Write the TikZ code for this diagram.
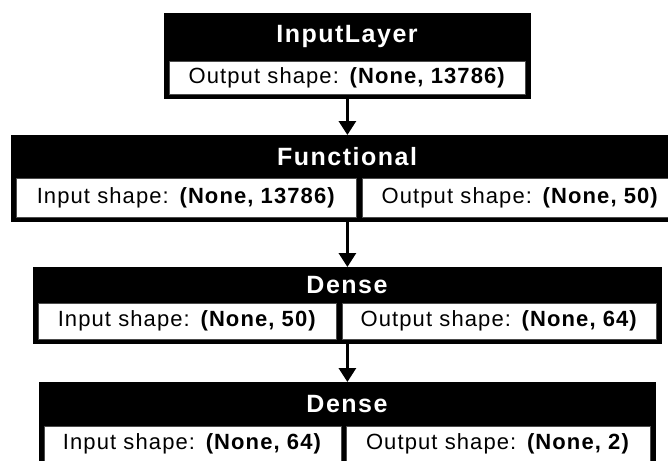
\documentclass[tikz,border=0pt]{standalone}
\usepackage{fontspec}
\setmainfont{Liberation Sans}
\usetikzlibrary{arrows.meta}
\begin{document}
\begin{tikzpicture}[x=1pt,y=-1pt,
  layer/.style={draw=black, fill=black, line width=0.8pt, inner sep=0pt, anchor=north west},
  title/.style={text=white, inner sep=0pt,
                font=\fontsize{25}{30}\selectfont\bfseries\addfontfeatures{LetterSpace=6}},
  cell/.style={draw=black!70, fill=white, line width=0.6pt, inner sep=0pt, anchor=north west,
               font=\fontsize{22}{27}\selectfont\addfontfeatures{LetterSpace=5}},
  label/.style={inner sep=0pt, font=\fontsize{22}{27}\selectfont\addfontfeatures{LetterSpace=5}},
  flow/.style={-{Triangle[length=14pt,width=17pt]}, line width=3pt}]
\useasboundingbox (0,0) rectangle (668,460);
\clip (0,0) rectangle (668,460);

% InputLayer
\node[layer, minimum width=366pt, minimum height=85pt] (in) at (164,13) {};
\node[title] (inT) at (347,36) {InputLayer};
\node[cell, minimum width=356pt, minimum height=33pt] (inO) at (169,61)
  {Output shape: \textbf{(None, 13786)}};

% Functional
\node[layer, minimum width=672pt, minimum height=86pt] (fn) at (11,135) {};
\node[title] (fnT) at (347,157) {Functional};
\node[cell, minimum width=340pt, minimum height=39pt] (fnI) at (16,178)
  {Input shape: \textbf{(None, 13786)}};
\node[cell, minimum width=316pt, minimum height=39pt] (fnO) at (362,178)
  {Output shape: \textbf{(None, 50)}};

% Dense
\node[layer, minimum width=628pt, minimum height=76pt] (d1) at (33,267) {};
\node[title] (d1T) at (347,285) {Dense};
\node[cell, minimum width=298pt, minimum height=36pt] (d1I) at (38,303)
  {Input shape: \textbf{(None, 50)}};
\node[cell, minimum width=314pt, minimum height=36pt] (d1O) at (342,303)
  {Output shape: \textbf{(None, 64)}};

% Dense (runs past the lower edge)
\node[layer, minimum width=616pt, minimum height=100pt] (d2) at (39,382) {};
\node[title] (d2T) at (347,404) {Dense};
\node[cell, minimum width=297pt, minimum height=50pt] (d2I) at (44,426) {};
\node[cell, minimum width=304pt, minimum height=50pt] (d2O) at (346,426) {};
\node[label] (d2Il) at (192.5,444) {Input shape: \textbf{(None, 64)}};
\node[label] (d2Ol) at (498,444) {Output shape: \textbf{(None, 2)}};

% connectors
\draw[flow] (in.south) -- (fn.north);
\draw[flow] (fn.south) -- (d1.north);
\draw[flow] (d1.south) -- (d2.north);
\end{tikzpicture}
\end{document}
